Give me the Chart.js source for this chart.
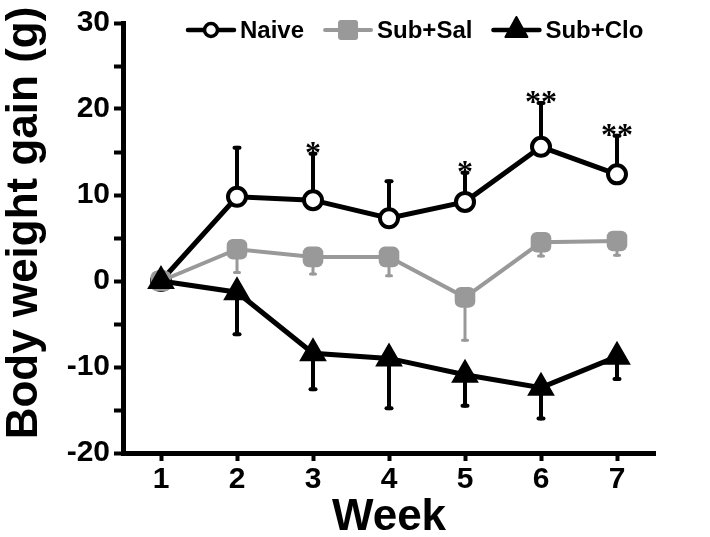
<!DOCTYPE html>
<html>
<head>
<meta charset="utf-8">
<script src="https://cdn.jsdelivr.net/npm/chart.js@4.4.0/dist/chart.umd.min.js"></script>
<style>html,body{margin:0;padding:0;background:#fff}</style>
</head>
<body>
<canvas id="weightChart" width="710" height="537"></canvas>
<script>
var weeks = ['1', '2', '3', '4', '5', '6', '7'];

// mean body weight gain (g) and error bar size for each group
var naive = [0, 9.8, 9.4, 7.3, 9.2, 15.6, 12.4];
var naiveErr = [0, 5.7, 5.4, 4.3, 3.4, 5.1, 4.5];
var subSal = [0, 3.7, 2.8, 2.8, -1.9, 4.5, 4.65];
var subSalErr = [0, 2.7, 2.0, 2.2, 5.0, 1.6, 1.65];
var subClo = [0, -1.3, -8.4, -9.0, -10.9, -12.4, -8.8];
var subCloErr = [0, 4.9, 4.2, 5.8, 3.6, 3.6, 2.6];

var stars = ['', '', '*', '', '*', '**', '**'];

var yTicks = [-20, -10, 0, 10, 20, 30];
var yTitle = 'Body weight gain (g)';

var GREY = '#999999';
var FONT = '"Liberation Sans", Arial, sans-serif';

var errorBars = {
  id: 'errorBars',
  beforeDatasetsDraw: function (chart) {
    var ctx = chart.ctx;
    var y = chart.scales.y;
    chart.data.datasets.forEach(function (ds, i) {
      var meta = chart.getDatasetMeta(i);
      ctx.save();
      ctx.strokeStyle = ds.borderColor;
      ctx.lineWidth = ds.errWidth;
      ctx.lineCap = 'round';
      ds.data.forEach(function (v, j) {
        var e = ds.err[j];
        if (!e) return;
        var px = meta.data[j].x;
        var p0 = y.getPixelForValue(v);
        var p1 = y.getPixelForValue(v + ds.dir * e);
        ctx.beginPath();
        ctx.moveTo(px, p0);
        ctx.lineTo(px, p1);
        ctx.stroke();
        ctx.beginPath();
        ctx.moveTo(px - 2.5, p1);
        ctx.lineTo(px + 2.5, p1);
        ctx.stroke();
      });
      ctx.restore();
    });
  },
  afterDatasetsDraw: function (chart) {
    // significance marks above the Naive error bars
    var ctx = chart.ctx;
    var y = chart.scales.y;
    var meta = chart.getDatasetMeta(0);
    ctx.save();
    ctx.fillStyle = '#000';
    ctx.font = 'bold 32px "Liberation Serif", "Times New Roman", serif';
    ctx.textAlign = 'center';
    ctx.textBaseline = 'alphabetic';
    stars.forEach(function (s, j) {
      if (!s) return;
      var top = y.getPixelForValue(naive[j] + naiveErr[j]);
      ctx.fillText(s, meta.data[j].x, top + 9);
    });
    ctx.restore();
  }
};

// y axis title, set a little above the middle of the axis as in the original
var sideTitle = {
  id: 'sideTitle',
  afterDraw: function (chart) {
    var ctx = chart.ctx;
    ctx.save();
    ctx.translate(37, 223);
    ctx.rotate(-Math.PI / 2);
    ctx.font = 'bold 44px ' + FONT;
    ctx.fillStyle = '#000';
    ctx.textAlign = 'center';
    ctx.textBaseline = 'alphabetic';
    ctx.fillText(yTitle, 0, 0);
    ctx.restore();
  }
};

var sampleLegend = {
  id: 'sampleLegend',
  afterDraw: function (chart) {
    var ctx = chart.ctx;
    var x = 186, cy = 30;
    ctx.save();
    ctx.font = 'bold 24px ' + FONT;
    ctx.textBaseline = 'middle';
    chart.data.datasets.forEach(function (ds) {
      ctx.strokeStyle = ds.borderColor;
      ctx.lineWidth = ds.legendLine;
      ctx.lineCap = 'round';
      ctx.beginPath();
      ctx.moveTo(x + 2, cy);
      ctx.lineTo(x + 48, cy);
      ctx.stroke();
      var mx = x + 25;
      ctx.fillStyle = ds.pointBackgroundColor;
      if (ds.pointStyle === 'circle') {
        ctx.lineWidth = 3.5;
        ctx.beginPath();
        ctx.arc(mx, cy, 6.5, 0, Math.PI * 2);
        ctx.fill();
        ctx.stroke();
      } else if (ds.pointStyle === 'rectRounded') {
        ctx.beginPath();
        ctx.roundRect(mx - 10, cy - 10, 20, 20, 3);
        ctx.fill();
      } else {
        ctx.lineWidth = 2;
        ctx.lineJoin = 'round';
        ctx.beginPath();
        ctx.moveTo(mx, cy - 13);
        ctx.lineTo(mx + 11, cy + 7);
        ctx.lineTo(mx - 11, cy + 7);
        ctx.closePath();
        ctx.fill();
        ctx.stroke();
      }
      ctx.fillStyle = '#000';
      ctx.fillText(ds.label, x + 54, cy + 1);
      x += 54 + ctx.measureText(ds.label).width + 19;
    });
    ctx.restore();
  }
};

new Chart(document.getElementById('weightChart'), {
  type: 'line',
  data: {
    labels: weeks,
    datasets: [{
      label: 'Naive',
      data: naive,
      err: naiveErr,
      dir: 1,
      errWidth: 4,
      legendLine: 4.5,
      borderColor: '#000',
      borderWidth: 5,
      pointStyle: 'circle',
      pointRadius: 9,
      pointBorderWidth: 4,
      pointBackgroundColor: '#fff',
      pointBorderColor: '#000',
      order: 3
    }, {
      label: 'Sub+Sal',
      data: subSal,
      err: subSalErr,
      dir: -1,
      errWidth: 3,
      legendLine: 4,
      borderColor: GREY,
      borderWidth: 4,
      pointStyle: 'rectRounded',
      pointRadius: 12,
      pointBorderWidth: 0,
      pointBackgroundColor: GREY,
      pointBorderColor: GREY,
      order: 2
    }, {
      label: 'Sub+Clo',
      data: subClo,
      err: subCloErr,
      dir: -1,
      errWidth: 4,
      legendLine: 4.5,
      borderColor: '#000',
      borderWidth: 5,
      pointStyle: 'triangle',
      pointRadius: 14,
      pointBorderWidth: 2,
      pointBackgroundColor: '#000',
      pointBorderColor: '#000',
      order: 1
    }]
  },
  options: {
    responsive: false,
    animation: false,
    devicePixelRatio: 1,
    layout: { padding: { left: 0, right: 55, top: 23, bottom: 0 } },
    plugins: {
      legend: { display: false },
      tooltip: { enabled: false }
    },
    scales: {
      x: {
        type: 'category',
        offset: true,
        grid: {
          offset: false,
          drawOnChartArea: false,
          drawTicks: true,
          tickLength: 8,
          tickWidth: 4,
          tickColor: '#000'
        },
        border: { display: true, width: 5, color: '#000' },
        ticks: {
          color: '#000',
          padding: 1,
          font: { family: FONT, size: 30, weight: 'bold' }
        },
        title: {
          display: true,
          text: 'Week',
          color: '#000',
          padding: { top: 0, bottom: -7 },
          font: { family: FONT, size: 44, weight: 'bold' }
        },
        afterFit: function (scale) { scale.height = 84; }
      },
      y: {
        min: -20,
        max: 30,
        grid: {
          drawOnChartArea: false,
          drawTicks: true,
          tickLength: 9,
          tickWidth: 4,
          tickColor: '#000'
        },
        border: { display: true, width: 5, color: '#000' },
        afterBuildTicks: function (scale) {
          var t = [];
          yTicks.forEach(function (v, i) {
            t.push({ value: v });
            if (i < yTicks.length - 1) t.push({ value: v + 5 });
          });
          scale.ticks = t;
        },
        ticks: {
          color: '#000',
          padding: 4,
          font: { family: FONT, size: 30, weight: 'bold' },
          callback: function (v) { return yTicks.indexOf(v) >= 0 ? v : ''; }
        },
        title: { display: false },
        afterFit: function (scale) { scale.width = 123; }
      }
    }
  },
  plugins: [errorBars, sideTitle, sampleLegend]
});
</script>
</body>
</html>
